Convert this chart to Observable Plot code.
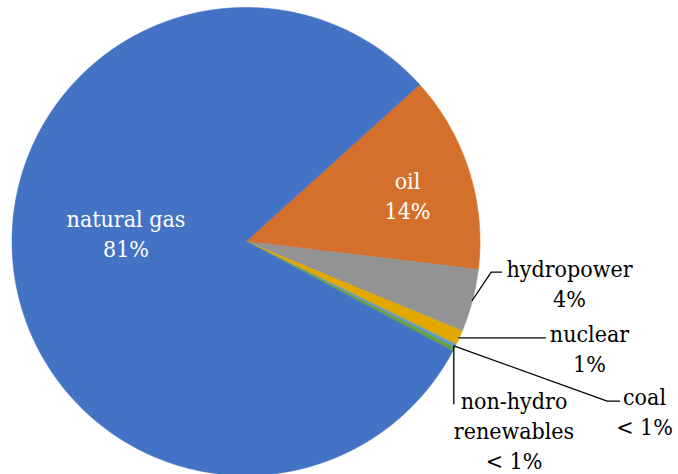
<!DOCTYPE html>
<html>
<head>
<meta charset="utf-8">
<script src="https://cdn.jsdelivr.net/npm/d3@7"></script>
<script src="https://cdn.jsdelivr.net/npm/@observablehq/plot@0.6"></script>
<style>
  html, body { margin: 0; padding: 0; background: #fff; }
  svg { display: block; }
  svg text { font-stretch: condensed; }
</style>
</head>
<body>
<div id="chart"></div>
<script>
// ---- data (percent share) ----
const categories = ["oil", "hydropower", "nuclear", "coal", "non-hydro\nrenewables", "natural gas"];
const shares     = [13.6, 4.35, 1.0, 0.2, 0.3, 80.55];
const colors     = ["#d5702c", "#939393", "#e3a800", "#5b9bd5", "#6aa043", "#4472c4"];

// ---- layout ----
const W = 678, H = 474;
const cx = 245.5, cy = 241, R = 234;
const startDeg = 47.9;
const fontSize = 23;
const lineGap = 30; // px between baselines
const serif = "'DejaVu Serif Condensed', 'DejaVu Serif'";
// label anchor (x, first baseline) and text colour, in category order
const labelPos = [
  {x: 407, y: 184, fill: "white"},
  {x: 569, y: 271.5, fill: "black"},
  {x: 589, y: 337, fill: "black"},
  {x: 644, y: 400, fill: "black"},
  {x: 513.5, y: 403.3, fill: "black"},
  {x: 125.5, y: 221.7, fill: "white"}
];
// leader lines (polyline points) for outside labels
const leaders = [
  {id: "hydropower", pts: [[471.7, 300], [490.7, 271.7], [501, 271.7]]},
  {id: "nuclear", pts: [[458.3, 337.3], [545, 337.3]]},
  {id: "coal", pts: [[453.3, 345.3], [606.7, 400.7], [619, 400.7]]},
  {id: "renewables", pts: [[453.3, 346.7], [453.3, 403.3]]}
];

const pie = d3.pie().sort(null).value(d => d.value)
  .startAngle(startDeg * Math.PI / 180)
  .endAngle(startDeg * Math.PI / 180 + 2 * Math.PI);
const rows = categories.map((c, i) => ({name: c, value: shares[i], color: colors[i]}));
const arcs = pie(rows);

const polys = [];
arcs.forEach((a, i) => {
  const n = Math.max(2, Math.ceil((a.endAngle - a.startAngle) / (Math.PI / 360)));
  polys.push({k: i, x: cx, y: cy, color: a.data.color});
  for (let j = 0; j <= n; j++) {
    const t = a.startAngle + (a.endAngle - a.startAngle) * j / n;
    polys.push({k: i, x: cx + R * Math.sin(t), y: cy - R * Math.cos(t), color: a.data.color});
  }
  polys.push({k: i, x: cx, y: cy, color: a.data.color});
});

const fmt = v => v < 0.5 ? "< 1%" : Math.round(v) + "%";
const labels = rows.map((r, i) => ({
  text: r.name + "\n" + fmt(r.value),
  x: labelPos[i].x,
  y: labelPos[i].y - 0.71 * fontSize,
  fill: labelPos[i].fill
}));

const leaderPts = leaders.flatMap(l => l.pts.map(p => ({id: l.id, x: p[0], y: p[1]})));

const chart = Plot.plot({
  width: W, height: H,
  margin: 0,
  x: {domain: [0, W], range: [0, W], axis: null},
  y: {domain: [0, H], range: [0, H], axis: null},
  style: {fontFamily: serif, background: "white"},
  marks: [
    Plot.line(polys, {x: "x", y: "y", z: "k", fill: "color", stroke: "color", strokeWidth: 0.6, curve: "linear"}),
    Plot.line(leaderPts, {x: "x", y: "y", z: "id", stroke: "black", strokeWidth: 1.3}),
    Plot.text(labels, {x: "x", y: "y", text: "text", fill: "fill", fontSize: fontSize, fontFamily: serif,
      lineAnchor: "top", lineHeight: lineGap / fontSize, textAnchor: "middle"})
  ]
});
document.getElementById("chart").appendChild(chart);
</script>
</body>
</html>
